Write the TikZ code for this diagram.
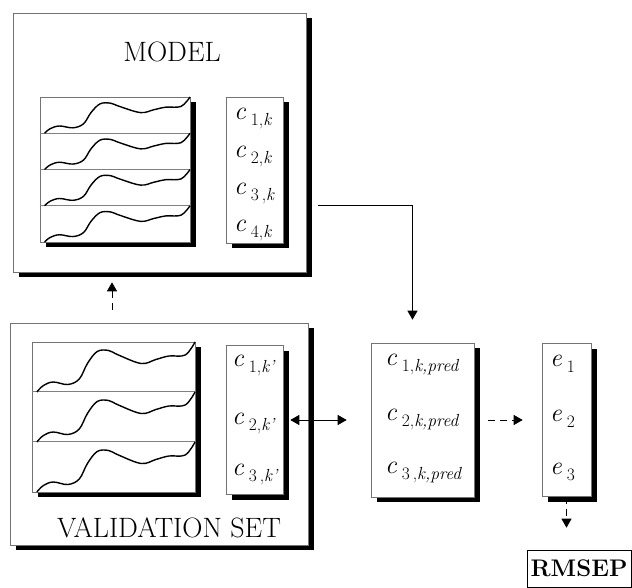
\documentclass[tikz,border=0pt]{standalone}
\usepackage{fontspec}
\usetikzlibrary{arrows.meta,shadows}
\newcommand\lab[2]{{\fontsize{26}{30}\selectfont\itshape #1}\hspace{5pt}\raisebox{-6pt}{\fontsize{17.5}{20}\selectfont #2}}
\tikzset{
  box/.style={draw=black!55, line width=0.6pt, fill=white, inner sep=0pt,
    drop shadow={shadow xshift=6pt, shadow yshift=-5pt, fill=black, opacity=1}},
  panel/.style={draw=black!50, line width=0.7pt},
  curve/.style={line width=1.4pt, line join=round},
  conc/.style={inner sep=0pt, anchor=base west},
  title/.style={font=\fontsize{28}{32}\selectfont, inner sep=0pt, anchor=base},
  arr/.style={line width=0.8pt, -{Triangle[width=10pt,length=9pt]}},
  dasharr/.style={arr, dash pattern=on 7pt off 5pt},
  dblarr/.style={line width=0.8pt, {Triangle[width=10pt,length=9pt]}-{Triangle[width=10pt,length=9pt]}}
}
\begin{document}
\begin{tikzpicture}[x=1pt, y=-1pt]
    \def\spectrum#1#2#3#4{%
      \begin{scope}[shift={(#1,#2)}, xscale=#3, yscale=-#4]
        \draw[curve] plot[smooth, tension=0.6] coordinates {(0.03,0) (0.07,0.13) (0.13,0.2) (0.22,0.15) (0.29,0.26)
          (0.34,0.57) (0.4,0.81) (0.47,0.83) (0.53,0.74) (0.67,0.57) (0.76,0.65) (0.84,0.72) (0.94,0.74) (1,1)};
      \end{scope}}
    \useasboundingbox[fill=white] (0,0) rectangle (632,588);
    % model block
    \node[box, minimum width=293pt, minimum height=259pt] (model) at (159.5,142.5) {};
    \node[title] (mtitle) at (172,62) {MODEL};
    \node[box, minimum width=150pt, minimum height=145pt] (mspec) at (115,169.5) {};
    \foreach \i in {1,2,3}
      \draw[panel] ([yshift=-\i*36.25pt]mspec.north west) -- ([yshift=-\i*36.25pt]mspec.north east);
    \foreach \i [evaluate=\i as \yb using 97+36.25*\i] in {1,...,4}
      \spectrum{40}{\yb}{150}{36.25};
    \node[box, minimum width=57pt, minimum height=146pt] (mconc) at (254.5,170) {};
    \node[conc] (mc1) at (234,120) {\lab{c}{1,\textit{k}}};
    \node[conc] (mc2) at (234,158) {\lab{c}{2,\textit{k}}};
    \node[conc] (mc3) at (234,195) {\lab{c}{3\,,\textit{k}}};
    \node[conc] (mc4) at (234,232) {\lab{c}{4,\textit{k}}};
    % validation block
    \node[box, minimum width=298pt, minimum height=222pt] (vset) at (159,434) {};
    \node[title] (vtitle) at (169,537) {VALIDATION SET};
    \node[box, minimum width=163pt, minimum height=150pt] (vspec) at (113.5,417) {};
    \foreach \i in {1,2}
      \draw[panel] ([yshift=-\i*50pt]vspec.north west) -- ([yshift=-\i*50pt]vspec.north east);
    \foreach \i [evaluate=\i as \yb using 342+50*\i] in {1,2,3}
      \spectrum{32}{\yb}{163}{50};
    \node[box, minimum width=57pt, minimum height=149pt] (vconc) at (254.5,420) {};
    \node[conc] (vc1) at (232,366) {\lab{c}{1,\textit{k'}}};
    \node[conc] (vc2) at (232,424) {\lab{c}{2,\textit{k'}}};
    \node[conc] (vc3) at (232,475) {\lab{c}{3\,,\textit{k'}}};
    % predictions and errors
    \node[box, minimum width=103pt, minimum height=154pt] (pred) at (422.5,420) {};
    \node[conc] (pc1) at (385,365) {\lab{c}{1,\textit{k,pred}}};
    \node[conc] (pc2) at (385,420) {\lab{c}{2,\textit{k,pred}}};
    \node[conc] (pc3) at (385,473) {\lab{c}{3\,,\textit{k,pred}}};
    \node[box, minimum width=49pt, minimum height=153pt] (err) at (566.5,420) {};
    \node[conc] (e1) at (550,366) {\lab{e}{1}};
    \node[conc] (e2) at (550,421) {\lab{e}{2}};
    \node[conc] (e3) at (550,474) {\lab{e}{3}};
    \node[draw, line width=0.6pt, minimum width=104pt, minimum height=37pt, inner sep=0pt,
      font=\fontsize{24}{28}\selectfont\bfseries] (rmsep) at (579,568.5) {RMSEP};
    % connectors
    \draw[dasharr] ([xshift=-47pt,yshift=13pt]vset.north) -- ([xshift=-47.5pt,yshift=-10pt]model.south);
    \draw[arr] ([xshift=12pt,yshift=-62.5pt]model.east) -| ([xshift=-10pt,yshift=23pt]pred.north);
    \draw[dblarr] ([xshift=7pt]vconc.east) -- ([xshift=-24pt]pred.west);
    \draw[dasharr] ([xshift=14pt]pred.east) -- ([xshift=-19pt]err.west);
    \draw[dasharr, shorten >=22pt] (err.south) -- (err.south |- rmsep.north);
  \end{tikzpicture}
\end{document}
